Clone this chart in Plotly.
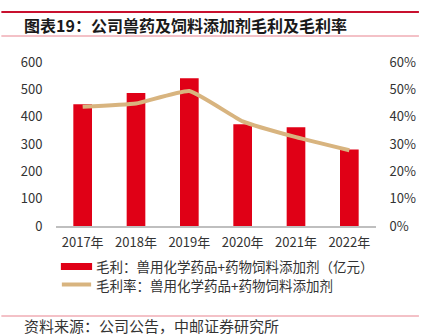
import plotly.graph_objects as go

# 兽用化学药品+药物饲料添加剂：毛利（亿元）与毛利率
years = ["2017年", "2018年", "2019年", "2020年", "2021年", "2022年"]
gross_profit = [445, 487, 541, 372, 361, 280]
gross_margin = [0.436, 0.448, 0.494, 0.383, 0.325, 0.277]

left_ticks = [0, 100, 200, 300, 400, 500, 600]
right_ticks = [0, 0.1, 0.2, 0.3, 0.4, 0.5, 0.6]
right_tick_text = ["0%", "10%", "20%", "30%", "40%", "50%", "60%"]

bar_name = "毛利：兽用化学药品+药物饲料添加剂（亿元）"
line_name = "毛利率：兽用化学药品+药物饲料添加剂"
title_text = "图表19：公司兽药及饲料添加剂毛利及毛利率"
source_text = "资料来源：公司公告，中邮证券研究所"

RED = "#E00016"
TAN = "#D8B47F"
FONT = "Noto Sans CJK SC"

W, H = 428, 335
ML, MR, MT, MB = 56, 44, 62, 109

fig = go.Figure()
fig.add_trace(go.Bar(x=years, y=gross_profit, name=bar_name,
                     marker=dict(color=RED, line=dict(width=0)),
                     yaxis="y", hoverinfo="skip"))
fig.add_trace(go.Scatter(x=years, y=gross_margin, name=line_name,
                         mode="lines", line=dict(color=TAN, width=4, shape="spline", smoothing=0.4),
                         yaxis="y2", hoverinfo="skip"))

fig.update_layout(
    width=W, height=H,
    margin=dict(l=ML, r=MR, t=MT, b=MB),
    paper_bgcolor="white", plot_bgcolor="white",
    font=dict(family=FONT, color="#333333", size=13),
    showlegend=False,
    bargap=0.65,
    xaxis=dict(showgrid=False, showline=True, linecolor="#BFBFBF", linewidth=1.5,
               ticks="outside", ticklen=4, tickcolor="rgba(0,0,0,0)",
               tickfont=dict(size=13, color="#333333")),
    yaxis=dict(range=[0, 600], tickvals=left_ticks, showgrid=False, zeroline=False,
               showline=False, ticks="outside", ticklen=10, tickcolor="rgba(0,0,0,0)",
               tickfont=dict(size=13, color="#333333")),
    yaxis2=dict(range=[0, 0.6], tickvals=right_ticks, ticktext=right_tick_text,
                overlaying="y", side="right", showgrid=False, zeroline=False,
                showline=False, ticks="outside", ticklen=10, tickcolor="rgba(0,0,0,0)",
                tickfont=dict(size=13, color="#333333")),
)


def py(pix):
    """Convert a pixel row (from top of the page) into paper y."""
    return (H - MB - pix) / (H - MB - MT)


def px(pix):
    """Convert a pixel column into paper x."""
    return (pix - ML) / (W - ML - MR)


# header rules and title
fig.add_shape(type="line", xref="paper", yref="paper", x0=px(0), x1=px(W),
              y0=py(12), y1=py(12), line=dict(color="#C8102E", width=2))
fig.add_shape(type="line", xref="paper", yref="paper", x0=px(0), x1=px(W),
              y0=py(36), y1=py(36), line=dict(color="#E8838F", width=1))
fig.add_annotation(text="<b>" + title_text + "</b>", xref="paper", yref="paper",
                   x=px(21), y=py(25), xanchor="left", yanchor="middle", showarrow=False,
                   font=dict(size=16, color="#1A1A1A", family=FONT))

# legend
fig.add_shape(type="rect", xref="paper", yref="paper", x0=px(61), x1=px(93),
              y0=py(270), y1=py(263), fillcolor=RED, line=dict(width=0))
fig.add_shape(type="line", xref="paper", yref="paper", x0=px(62), x1=px(92),
              y0=py(284.5), y1=py(284.5), line=dict(color=TAN, width=4))
fig.add_annotation(text=bar_name, xref="paper", yref="paper", x=px(95), y=py(266),
                   xanchor="left", yanchor="middle", showarrow=False,
                   font=dict(size=13.5, color="#333333", family=FONT))
fig.add_annotation(text=line_name, xref="paper", yref="paper", x=px(95), y=py(285),
                   xanchor="left", yanchor="middle", showarrow=False,
                   font=dict(size=13.5, color="#333333", family=FONT))

# footer rule and source
fig.add_shape(type="line", xref="paper", yref="paper", x0=px(0), x1=px(W),
              y0=py(316), y1=py(316), line=dict(color="#E8838F", width=1))
fig.add_annotation(text=source_text, xref="paper", yref="paper", x=px(21), y=py(325),
                   xanchor="left", yanchor="middle", showarrow=False,
                   font=dict(size=15, color="#333333", family=FONT))

fig.write_html("out.html")
